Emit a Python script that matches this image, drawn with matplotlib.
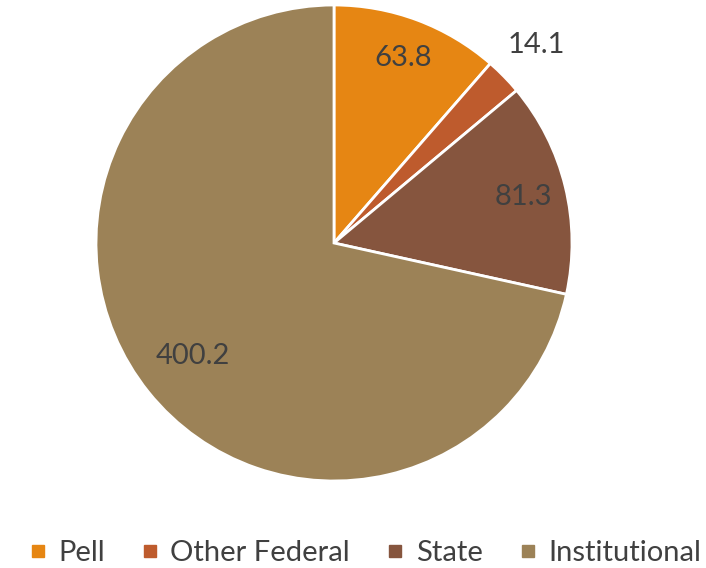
import matplotlib.pyplot as plt
from matplotlib.lines import Line2D
import numpy as np

# ----------------------------
# Data
# ----------------------------

categories = ["Pell", "Other Federal", "State", "Institutional"]
values     = [63.8, 14.1, 81.3, 400.2]
labels     = ["63.8", "14.1", "81.3", "400.2"]
colors     = ["#E68613", "#BE5B2D", "#86553E", "#9C8257"]
label_dist = [0.83, 1.19, 0.82, 0.76]

plt.rcParams["font.family"] = ["Lato", "DejaVu Sans"]
text_color = "#404040"

# ----------------------------
# Pie
# ----------------------------

fig = plt.figure(figsize=(7.06, 5.68), dpi=100)
cx, cy, r = 334, 243, 238
ax = fig.add_axes([(cx - r) / 706, (568 - cy - r) / 568, 2 * r / 706, 2 * r / 568])

wedges, _ = ax.pie(
    values, colors=colors, startangle=90, counterclock=False,
    wedgeprops=dict(edgecolor="white", linewidth=2.0),
)
ax.set_xlim(-1, 1)
ax.set_ylim(-1, 1)
ax.set_aspect("equal")
ax.axis("off")

for w, lab, d in zip(wedges, labels, label_dist):
    ang = np.deg2rad((w.theta1 + w.theta2) / 2)
    ax.text(d * np.cos(ang), d * np.sin(ang), lab, ha="center", va="center",
            fontsize=21, color=text_color)

# ----------------------------
# Legend
# ----------------------------

handles = [Line2D([], [], marker="s", linestyle="none", markersize=8.5,
                  markerfacecolor=c, markeredgecolor=c) for c in colors]
fig.legend(handles, categories, loc="center", bbox_to_anchor=(0.517, 1 - 553 / 568),
           ncol=4, frameon=False, fontsize=21, handlelength=0.6,
           handletextpad=0.4, columnspacing=1.25, labelcolor=text_color)

fig.savefig("out.png", dpi=100)
